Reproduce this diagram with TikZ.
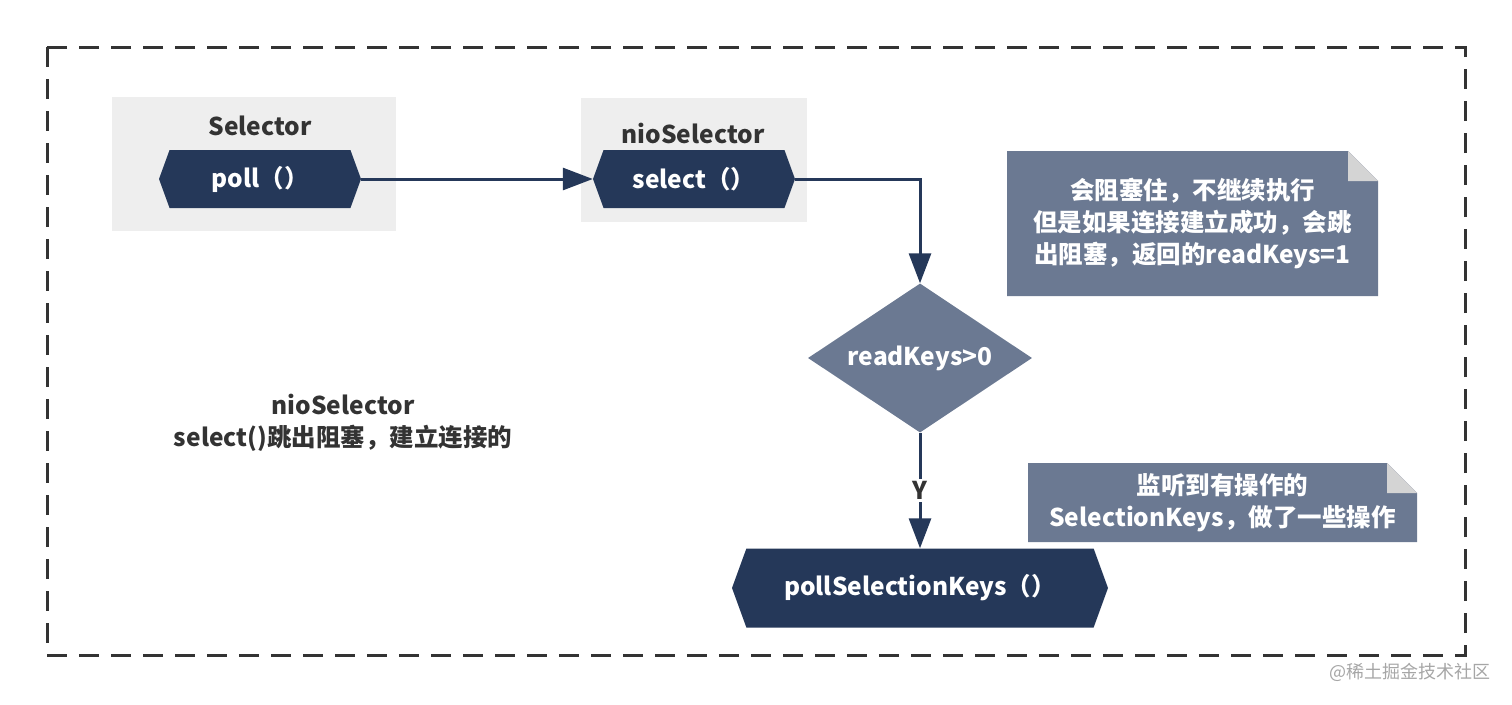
\documentclass[tikz,border=0pt]{standalone}
\usepackage{fontspec}
\setmainfont{Noto Sans CJK SC}
\usetikzlibrary{arrows.meta,shapes.geometric,shapes.symbols,positioning}
\definecolor{navy}{HTML}{253859}
\definecolor{slate}{HTML}{6B7992}
\definecolor{panelgray}{HTML}{EEEEEE}
\definecolor{foldgray}{HTML}{D4D4D4}
\definecolor{inkgray}{HTML}{333333}
\newcommand\bigbold{\bfseries\fontsize{24.5}{32}\selectfont}

\begin{document}
\begin{tikzpicture}[x=1pt,y=-1pt]
    \tikzset{
      Panel/.style = {fill=panelgray, inner sep=0},
      Title/.style = {text=inkgray, font=\bigbold},
      Method/.style = {signal, signal to=west and east, signal pointer angle=140,
                       fill=navy, text=white, font=\bigbold, inner sep=0},
      Decision/.style = {diamond, aspect=1.5, fill=slate, text=white, font=\bigbold, inner sep=0,
                         minimum width=224, minimum height=149},
      Note/.style = {text=white, font=\bigbold, align=center, inner sep=0,
        path picture={
          \fill[slate] (path picture bounding box.south west)
            |- ([xshift=-30pt]path picture bounding box.north east)
            -- ([yshift=-30pt]path picture bounding box.north east) |- cycle;
          \fill[foldgray] ([xshift=-30pt]path picture bounding box.north east)
            |- ([yshift=-30pt]path picture bounding box.north east) -- cycle;}},
      Flow/.style = {draw=navy, line width=3pt, -{Triangle[length=30pt,width=22pt]}},
      YesLabel/.style = {fill=white, text=inkgray, font=\bigbold, inner sep=2pt}
    }
    \useasboundingbox (0,0) rectangle (1512,704);
    \draw[inkgray, line width=3pt, dash pattern=on 20pt off 12pt] (47,47) rectangle (1465,655);

    \node[Panel, minimum width=284, minimum height=134] (selpanel) at (254,164) {};
    \node[Panel, minimum width=226, minimum height=124] (niopanel) at (694,160) {};
    \node[Title] (seltitle) at (260,126) {Selector};
    \node[Title] (niotitle) at (693,133) {nioSelector};

    \node[Method, minimum width=202, minimum height=58] (poll) at (260,179) {poll（）};
    \node[Method, minimum width=202, minimum height=58] (select) at (694,179) {select（）};
    \node[Decision] (check) at (920,358) {readKeys>0};
    \node[Method, minimum width=376, minimum height=79] (pollkeys) at (920,588) {pollSelectionKeys（）};

    \node[Note, minimum width=371, minimum height=145] (blocknote) at (1192.5,223.5)
      {会阻塞住，不继续执行\\但是如果连接建立成功，会跳\\出阻塞，返回的readKeys=1};
    \node[Note, minimum width=389, minimum height=79] (keysnote) at (1222.5,502.5)
      {监听到有操作的\\SelectionKeys，做了一些操作};
    \node[Title, align=center] (freetext) at (343,423)
      {nioSelector\\select()跳出阻塞，建立连接的};

    \draw[Flow] (poll.east) -- (select.west);
    \draw[Flow] (select.east) -| (check.north);
    \draw[Flow] (check.south) -- node[YesLabel] {Y} (pollkeys.north);

    \node[text=gray!70, font=\fontsize{18}{20}\selectfont] (mark) at (1410,672) {@稀土掘金技术社区};
\end{tikzpicture}
\end{document}
